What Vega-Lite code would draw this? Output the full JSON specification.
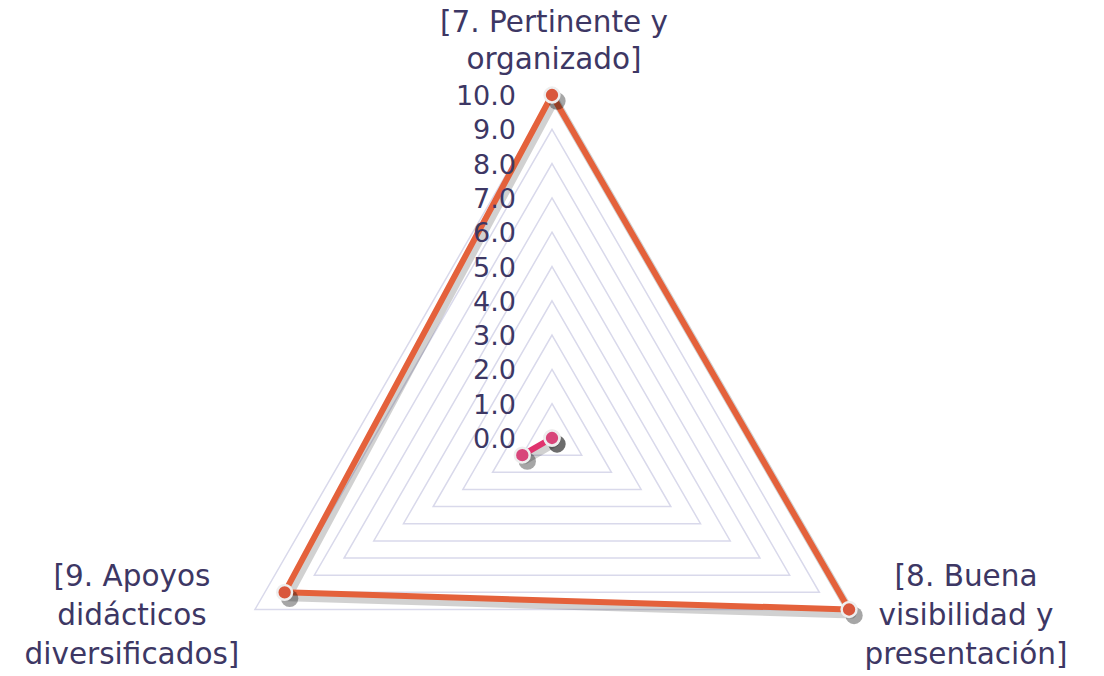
{
 "$schema": "https://vega.github.io/schema/vega-lite/v6.json",
 "width": 1104, "height": 676, "padding": 0, "autosize": {"type": "none"},
 "background": "white",
 "config": {"view": {"stroke": null}},
 "datasets": {
  "series": [
   {"series": "A", "axis": "7", "k": 0, "value": 10},
   {"series": "A", "axis": "8", "k": 1, "value": 10},
   {"series": "A", "axis": "9", "k": 2, "value": 9},
   {"series": "B", "axis": "7", "k": 0, "value": 0},
   {"series": "B", "axis": "8", "k": 1, "value": 0},
   {"series": "B", "axis": "9", "k": 2, "value": 1}
  ],
  "grid": [
   {"level": 1, "k": 0}, {"level": 1, "k": 1}, {"level": 1, "k": 2},
   {"level": 2, "k": 0}, {"level": 2, "k": 1}, {"level": 2, "k": 2},
   {"level": 3, "k": 0}, {"level": 3, "k": 1}, {"level": 3, "k": 2},
   {"level": 4, "k": 0}, {"level": 4, "k": 1}, {"level": 4, "k": 2},
   {"level": 5, "k": 0}, {"level": 5, "k": 1}, {"level": 5, "k": 2},
   {"level": 6, "k": 0}, {"level": 6, "k": 1}, {"level": 6, "k": 2},
   {"level": 7, "k": 0}, {"level": 7, "k": 1}, {"level": 7, "k": 2},
   {"level": 8, "k": 0}, {"level": 8, "k": 1}, {"level": 8, "k": 2},
   {"level": 9, "k": 0}, {"level": 9, "k": 1}, {"level": 9, "k": 2},
   {"level": 10, "k": 0}, {"level": 10, "k": 1}, {"level": 10, "k": 2}
  ],
  "ticks": [
   {"value": 0}, {"value": 1}, {"value": 2}, {"value": 3}, {"value": 4}, {"value": 5},
   {"value": 6}, {"value": 7}, {"value": 8}, {"value": 9}, {"value": 10}
  ],
  "axes": [
   {"k": 0, "label": ["[7. Pertinente y", "organizado]"]},
   {"k": 1, "label": ["[8. Buena", "visibilidad y", "presentación]"]},
   {"k": 2, "label": ["[9. Apoyos", "didácticos", "diversificados]"]}
  ]
 },
 "encoding": {
  "x": {"field": "px", "type": "quantitative", "scale": {"domain": [-16.093, 16.093], "nice": false, "zero": false}, "axis": null},
  "y": {"field": "py", "type": "quantitative", "scale": {"domain": [-6.939, 12.77], "nice": false, "zero": false}, "axis": null}
 },
 "layer": [
  {
   "data": {"name": "grid"},
   "transform": [
    {"calculate": "datum.level * sin(datum.k * 2 * PI / 3)", "as": "px"},
    {"calculate": "datum.level * cos(datum.k * 2 * PI / 3)", "as": "py"}
   ],
   "mark": {"type": "line", "interpolate": "linear-closed", "stroke": "#D9D9EB", "strokeWidth": 1.5},
   "encoding": {"detail": {"field": "level"}, "order": {"field": "k"}}
  },
  {
   "data": {"name": "series"},
   "transform": [
    {"calculate": "datum.value * sin(datum.k * 2 * PI / 3)", "as": "px"},
    {"calculate": "datum.value * cos(datum.k * 2 * PI / 3)", "as": "py"}
   ],
   "mark": {"type": "line", "interpolate": "linear-closed", "stroke": "#000000", "opacity": 0.18, "strokeWidth": 8, "xOffset": 3, "yOffset": 5, "strokeJoin": "round"},
   "encoding": {"detail": {"field": "series"}, "order": {"field": "k"}}
  },
  {
   "data": {"name": "series"},
   "transform": [
    {"calculate": "datum.value * sin(datum.k * 2 * PI / 3)", "as": "px"},
    {"calculate": "datum.value * cos(datum.k * 2 * PI / 3)", "as": "py"}
   ],
   "mark": {"type": "line", "interpolate": "linear-closed", "strokeWidth": 6, "strokeJoin": "round"},
   "encoding": {
    "stroke": {"field": "series", "type": "nominal", "scale": {"domain": ["A", "B"], "range": ["#E4613B", "#E0336E"]}, "legend": null},
    "order": {"field": "k"}
   }
  },
  {
   "data": {"name": "series"},
   "transform": [
    {"calculate": "datum.value * sin(datum.k * 2 * PI / 3)", "as": "px"},
    {"calculate": "datum.value * cos(datum.k * 2 * PI / 3)", "as": "py"}
   ],
   "mark": {"type": "circle", "fill": "#000000", "opacity": 0.35, "size": 300, "xOffset": 5, "yOffset": 6}
  },
  {
   "data": {"name": "series"},
   "transform": [
    {"calculate": "datum.value * sin(datum.k * 2 * PI / 3)", "as": "px"},
    {"calculate": "datum.value * cos(datum.k * 2 * PI / 3)", "as": "py"}
   ],
   "mark": {"type": "point", "shape": "circle", "filled": true, "size": 220, "stroke": "#EEEEEE", "strokeWidth": 2.5, "opacity": 1},
   "encoding": {
    "fill": {"field": "series", "type": "nominal", "scale": {"domain": ["A", "B"], "range": ["#D9573C", "#D8467A"]}, "legend": null}
   }
  },
  {
   "data": {"name": "ticks"},
   "transform": [
    {"calculate": "0", "as": "px"},
    {"calculate": "datum.value", "as": "py"}
   ],
   "mark": {"type": "text", "align": "right", "baseline": "middle", "dx": -36, "dy": 2, "font": "DejaVu Sans", "fontSize": 27, "fill": "#3D3764"},
   "encoding": {"text": {"field": "value", "type": "quantitative", "format": ".1f"}}
  },
  {
   "data": {"name": "axes"},
   "transform": [
    {"filter": "datum.k == 0"},
    {"calculate": "10 * sin(datum.k * 2 * PI / 3)", "as": "px"},
    {"calculate": "10 * cos(datum.k * 2 * PI / 3)", "as": "py"}
   ],
   "mark": {"type": "text", "align": "center", "baseline": "alphabetic", "dx": 2, "dy": -63, "lineHeight": 37, "font": "DejaVu Sans", "fontSize": 29.5, "fill": "#3D3764"},
   "encoding": {"text": {"field": "label"}}
  },
  {
   "data": {"name": "axes"},
   "transform": [
    {"filter": "datum.k == 1"},
    {"calculate": "10 * sin(datum.k * 2 * PI / 3)", "as": "px"},
    {"calculate": "10 * cos(datum.k * 2 * PI / 3)", "as": "py"}
   ],
   "mark": {"type": "text", "align": "center", "baseline": "alphabetic", "dx": 117, "dy": -23, "lineHeight": 39, "font": "DejaVu Sans", "fontSize": 29.5, "fill": "#3D3764"},
   "encoding": {"text": {"field": "label"}}
  },
  {
   "data": {"name": "axes"},
   "transform": [
    {"filter": "datum.k == 2"},
    {"calculate": "10 * sin(datum.k * 2 * PI / 3)", "as": "px"},
    {"calculate": "10 * cos(datum.k * 2 * PI / 3)", "as": "py"}
   ],
   "mark": {"type": "text", "align": "center", "baseline": "alphabetic", "dx": -123, "dy": -23, "lineHeight": 39, "font": "DejaVu Sans", "fontSize": 29.5, "fill": "#3D3764"},
   "encoding": {"text": {"field": "label"}}
  }
 ]
}
